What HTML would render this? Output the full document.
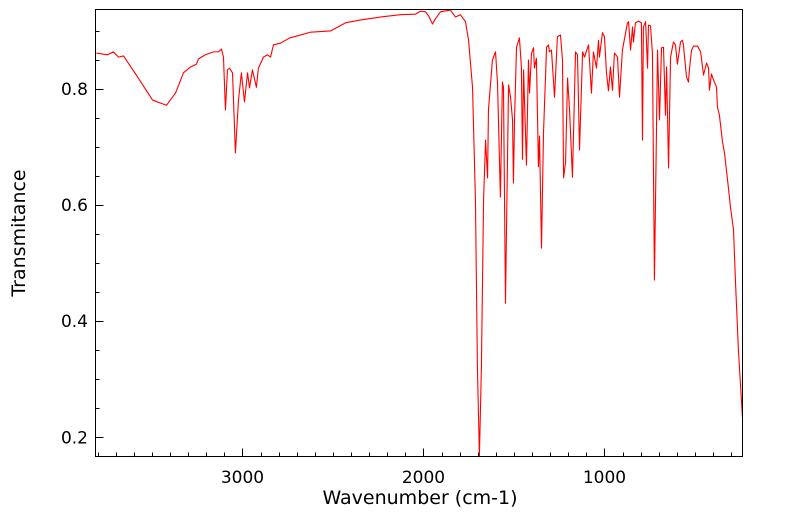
<!DOCTYPE html>
<html><head><meta charset="utf-8"><style>
body{margin:0;background:#fff;}
svg{display:block;font-family:"DejaVu Sans","Liberation Sans",sans-serif;}
</style></head><body>
<svg id="chart" width="799" height="516" viewBox="0 0 799 516" xmlns="http://www.w3.org/2000/svg">
<rect x="95.5" y="9.5" width="647" height="447" fill="#fff" stroke="none"/>
<g id="ticks"></g>
<g id="labels"></g>
<path id="line" fill="none" stroke="#ff0000" stroke-width="1.1" stroke-linejoin="round"/>
<rect x="95.5" y="9.5" width="647" height="447" fill="none" stroke="#000" stroke-width="1"/>
<text x="420" y="504" font-size="19" text-anchor="middle">Wavenumber (cm-1)</text>
<text transform="translate(25,233) rotate(-90)" font-size="19" text-anchor="middle">Transmitance</text>
</svg>
<script>
const wavenumbers=[3807,3746,3713,3685,3657,3580,3497,3420,3370,3326,3287,3254,3243,3204,3160,3133,3116,3105,3094,3083,3072,3055,3039,3022,3006,2989,2972,2961,2945,2923,2912,2884,2862,2845,2829,2790,2740,2680,2624,2514,2431,2348,2238,2127,2044,2017,1989,1972,1950,1934,1906,1851,1823,1796,1768,1751,1729,1713,1702,1691,1680,1668,1657,1646,1641,1619,1602,1591,1575,1564,1558,1547,1530,1519,1508,1503,1497,1486,1470,1459,1453,1447,1431,1420,1414,1403,1392,1387,1376,1365,1359,1348,1337,1320,1309,1304,1293,1276,1260,1243,1232,1226,1215,1204,1193,1177,1160,1149,1138,1121,1110,1088,1072,1061,1044,1033,1028,1011,1000,989,978,967,956,945,928,917,901,873,867,856,845,840,829,812,796,790,785,773,762,757,746,735,724,713,707,696,685,674,663,657,646,635,619,608,597,580,569,564,547,536,530,519,508,486,469,453,436,425,420,409,398,381,376,365,348,337,320,304,287,276,260,238];
const transmittance=[0.862,0.859,0.864,0.855,0.857,0.821,0.781,0.772,0.793,0.828,0.838,0.843,0.852,0.859,0.864,0.864,0.869,0.855,0.764,0.833,0.836,0.828,0.690,0.781,0.828,0.778,0.828,0.802,0.833,0.803,0.836,0.855,0.859,0.855,0.876,0.879,0.888,0.893,0.898,0.900,0.914,0.919,0.924,0.928,0.929,0.934,0.933,0.926,0.912,0.921,0.933,0.936,0.924,0.928,0.916,0.884,0.803,0.609,0.321,0.166,0.321,0.609,0.712,0.647,0.764,0.850,0.864,0.810,0.614,0.812,0.803,0.431,0.807,0.786,0.747,0.638,0.747,0.872,0.888,0.838,0.679,0.833,0.669,0.850,0.793,0.862,0.871,0.836,0.853,0.666,0.719,0.526,0.724,0.872,0.876,0.864,0.867,0.786,0.890,0.893,0.850,0.647,0.674,0.819,0.764,0.648,0.864,0.859,0.695,0.864,0.855,0.876,0.793,0.864,0.836,0.884,0.855,0.897,0.890,0.828,0.797,0.838,0.798,0.862,0.855,0.786,0.867,0.914,0.916,0.867,0.907,0.881,0.914,0.917,0.914,0.712,0.907,0.916,0.836,0.910,0.909,0.862,0.471,0.724,0.867,0.747,0.871,0.872,0.755,0.838,0.664,0.855,0.881,0.876,0.843,0.881,0.884,0.876,0.821,0.812,0.836,0.867,0.874,0.874,0.864,0.824,0.845,0.836,0.798,0.826,0.816,0.803,0.769,0.755,0.709,0.690,0.643,0.597,0.557,0.466,0.350,0.235];
const xMajorTicks=[3000,2000,1000];
const xMajorLabels=["3000","2000","1000"];
const yMajorTicks=[0.2,0.4,0.6,0.8];
const yMajorLabels=["0.2","0.4","0.6","0.8"];

const X0=95.5,X1=742.5,Y0=9.5,Y1=456.5;
const WMAX=3812,WMIN=237.5,TMAX=0.937,TMIN=0.167;
function sx(w){return X0+(WMAX-w)/(WMAX-WMIN)*(X1-X0);}
function sy(t){return Y1-(t-TMIN)/(TMAX-TMIN)*(Y1-Y0);}
const NS="http://www.w3.org/2000/svg";
let d="";
for(let i=0;i<wavenumbers.length;i++){
  const y=Math.min(Y1,Math.max(Y0,sy(transmittance[i])));
  d+=(i?"L":"M")+sx(wavenumbers[i]).toFixed(2)+","+y.toFixed(2);
}
document.getElementById("line").setAttribute("d",d);
const tg=document.getElementById("ticks"),lg=document.getElementById("labels");
function line(x1,y1,x2,y2,name){
  const l=document.createElementNS(NS,"line");
  l.setAttribute("x1",x1);l.setAttribute("y1",y1);l.setAttribute("x2",x2);l.setAttribute("y2",y2);
  l.setAttribute("stroke","#000");l.setAttribute("stroke-width","1");
  
  
  tg.appendChild(l);
}
for(let w=3800;w>=300;w-=100){
  const x=Math.round(sx(w))+0.5;
  const major=w%1000===0;
  line(x,Y1,x,Y1-(major?8:4),major?"x-major-tick":"x-minor-tick");
}
xMajorTicks.forEach((w,i)=>{
  const t=document.createElementNS(NS,"text");
  t.setAttribute("x",sx(w));t.setAttribute("y",483);
  t.setAttribute("font-size","17");t.setAttribute("text-anchor","middle");
  t.textContent=xMajorLabels[i];
  
  
  lg.appendChild(t);
});
for(let k=4;k<=18;k++){
  const v=k*0.05;
  if(v<TMIN||v>TMAX)continue;
  const y=Math.round(sy(v))+0.5;
  const major=k%4===0;
  line(X0,y,X0+(major?8:4),y,major?"y-major-tick":"y-minor-tick");
}
yMajorTicks.forEach((v,i)=>{
  const t=document.createElementNS(NS,"text");
  t.setAttribute("x",88);t.setAttribute("y",sy(v)+6);
  t.setAttribute("font-size","17");t.setAttribute("text-anchor","end");
  t.textContent=yMajorLabels[i];
  
  
  lg.appendChild(t);
});
</script>
</body></html>
